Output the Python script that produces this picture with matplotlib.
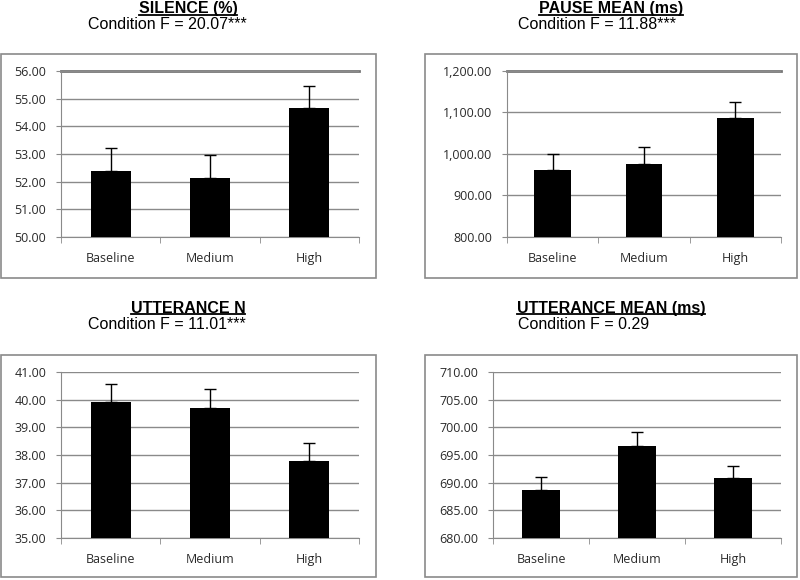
import matplotlib.pyplot as plt
from matplotlib.patches import Rectangle
from matplotlib.lines import Line2D
from matplotlib.ticker import FuncFormatter

categorias = ["Baseline", "Medium", "High"]

# valores das barras e topo das barras de erro
silence = [52.37, 52.13, 54.65]
silence_err = [53.20, 52.97, 55.45]
pause = [961.0, 975.0, 1086.0]
pause_err = [1000.0, 1016.0, 1125.0]
utt_n = [39.90, 39.70, 37.80]
utt_n_err = [40.55, 40.38, 38.45]
utt_mean = [688.7, 696.7, 690.9]
utt_mean_err = [691.1, 699.2, 693.1]

titulos = ["SILENCE (%)", "PAUSE MEAN (ms)", "UTTERANCE N", "UTTERANCE MEAN (ms)"]
subtitulos = ["Condition F = 20.07***", "Condition F = 11.88***",
              "Condition F = 11.01***", "Condition F = 0.29"]
limites = [(50, 56, 1), (800, 1200, 100), (35, 41, 1), (680, 710, 5)]

W, H = 800, 580
fig = plt.figure(figsize=(8, 5.8), dpi=100)

def fx(px):
    return px / W

def fy(py):
    return 1 - py / H

# (esquerda, direita, topo, base) da área de plotagem em pixels
areas = [(61, 359, 71, 237), (507, 781, 71, 237), (61, 359, 372, 538), (493, 781, 372, 538)]
caixas = [(1, 54, 376, 278), (425, 54, 797, 278), (1, 355, 376, 577), (425, 355, 797, 577)]
# (centro do título, linha de base do título, x do subtítulo, linha de base do subtítulo)
pos_titulo = [(188, 12.5, 88, 29), (611, 12.5, 518, 29), (188, 312.5, 88, 329), (611, 312.5, 518, 329)]

dados = [(silence, silence_err), (pause, pause_err), (utt_n, utt_n_err), (utt_mean, utt_mean_err)]

titulo_textos = []
for i in range(4):
    x0, y0, x1, y1 = caixas[i]
    fig.patches.append(Rectangle((fx(x0), fy(y1)), fx(x1 - x0), (y1 - y0) / H,
                                 transform=fig.transFigure, fill=False,
                                 edgecolor="#8a8a8a", linewidth=1.2))

    l, r, t, b = areas[i]
    ax = fig.add_axes([fx(l), fy(b), fx(r - l), (b - t) / H])
    vals, tops = dados[i]
    erros = [tp - v for tp, v in zip(tops, vals)]
    xs = range(len(categorias))
    ax.bar(xs, vals, width=0.4, color="black", zorder=3)
    ax.errorbar(xs, vals, yerr=[[0] * 3, erros], fmt="none", ecolor="black",
                elinewidth=1, capsize=4, capthick=1, zorder=4)

    lo, hi, passo = limites[i]
    ax.set_ylim(lo, hi)
    ax.set_xlim(-0.5, 2.5)
    ticks = [lo + k * passo for k in range(int(round((hi - lo) / passo)) + 1)]
    ax.set_yticks(ticks)
    ax.yaxis.set_major_formatter(FuncFormatter(lambda v, p: f"{v:,.2f}"))
    ax.set_xticks(list(xs))
    ax.set_xticklabels(categorias)
    ax.set_xticks([-0.5, 0.5, 1.5, 2.5], minor=True)
    ax.tick_params(axis="x", which="major", length=0, pad=11, labelsize=9, labelcolor="#2a2a2a")
    ax.tick_params(axis="x", which="minor", length=4, color="#8a8a8a", direction="out")
    ax.tick_params(axis="y", length=3.6, color="#8a8a8a", direction="out", pad=7,
                   labelsize=9, labelcolor="#2a2a2a")
    for lbl in ax.get_xticklabels() + ax.get_yticklabels():
        lbl.set_fontfamily("Open Sans")

    ax.grid(axis="y", color="#8a8a8a", linewidth=1, zorder=0)
    for s in ["top", "right"]:
        ax.spines[s].set_visible(False)
    ax.spines["left"].set_color("#8a8a8a")
    ax.spines["bottom"].set_color("#8a8a8a")
    if i < 2:
        ax.axhline(hi, color="#777777", linewidth=2, zorder=1, clip_on=False)

    cx, cy, sx, sy = pos_titulo[i]
    tt = fig.text(fx(cx), fy(cy), titulos[i], ha="center", va="baseline",
                  fontsize=11.5, fontweight="bold", family="Liberation Sans")
    titulo_textos.append((tt, cy))
    fig.text(fx(sx), fy(sy), subtitulos[i], ha="left", va="baseline",
             fontsize=11.5, family="Liberation Sans")

# sublinhado dos títulos
fig.canvas.draw()
rend = fig.canvas.get_renderer()
for tt, base in titulo_textos:
    bb = tt.get_window_extent(rend)
    yl = fy(base + 2)
    fig.lines.append(Line2D([bb.x0 / W, bb.x1 / W], [yl, yl],
                            transform=fig.transFigure, color="black", linewidth=1.3))

fig.savefig("out.png", dpi=100)
